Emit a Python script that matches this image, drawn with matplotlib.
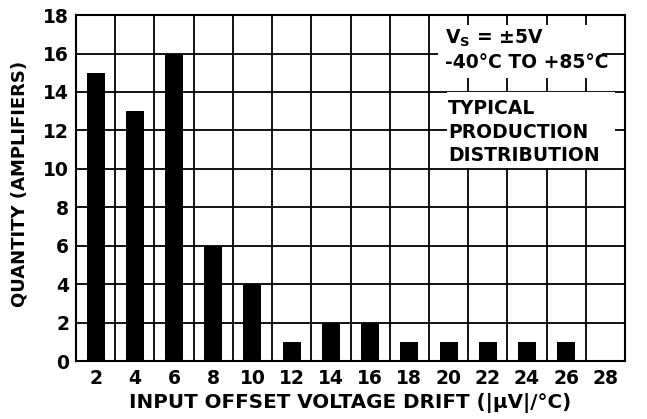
import matplotlib
matplotlib.use('Agg')
import matplotlib.pyplot as plt
from matplotlib.patches import Rectangle

drift = [2, 4, 6, 8, 10, 12, 14, 16, 18, 20, 22, 24, 26]
quantity = [15, 13, 16, 6, 4, 1, 2, 2, 1, 1, 1, 1, 1]
x_ticks = [2, 4, 6, 8, 10, 12, 14, 16, 18, 20, 22, 24, 26, 28]
y_ticks = [0, 2, 4, 6, 8, 10, 12, 14, 16, 18]

plt.rcParams['font.family'] = ['DejaVu Sans']
plt.rcParams['font.weight'] = 'bold'
plt.rcParams['mathtext.default'] = 'bf'
FS = 13.5

fig = plt.figure(figsize=(6.47, 4.19), dpi=100)
ax = fig.add_axes([0.1175, 0.138, 0.8485, 0.826])

ax.bar(drift, quantity, width=0.92, color='black', zorder=3)

ax.set_xlim(1, 29)
ax.set_ylim(0, 18)
ax.set_xticks(x_ticks)
ax.set_yticks(y_ticks)
ax.set_xticks(range(3, 29, 2), minor=True)
ax.tick_params(axis='both', which='both', length=0, labelsize=FS)
ax.tick_params(axis='x', pad=5.5)
ax.tick_params(axis='y', pad=5)
ax.grid(True, which='minor', axis='x', color='black', linewidth=1.3, zorder=1)
ax.grid(True, which='major', axis='y', color='black', linewidth=1.3, zorder=1)
for sp in ax.spines.values():
    sp.set_linewidth(1.5)
    sp.set_zorder(5)

ax.set_xlabel('INPUT OFFSET VOLTAGE DRIFT (|µV|/°C)', fontsize=14.3, fontweight='bold', labelpad=4)
ax.set_ylabel('QUANTITY (AMPLIFIERS)', fontsize=13, fontweight='bold')
ax.yaxis.set_label_coords(-0.086, 0.513)

# white panels behind the annotation text
ax.add_patch(Rectangle((0.660, 0.818), 0.298, 0.153, transform=ax.transAxes,
                       facecolor='white', edgecolor='none', zorder=4))
ax.add_patch(Rectangle((0.676, 0.558), 0.306, 0.219, transform=ax.transAxes,
                       facecolor='white', edgecolor='none', zorder=4))

ax.text(0.672, 0.900, '$V_S$ = ±5V\n-40°C TO +85°C', transform=ax.transAxes, fontsize=FS,
        fontweight='bold', ha='left', va='center', linespacing=1.3, zorder=6)
ax.text(0.678, 0.662, 'TYPICAL\nPRODUCTION\nDISTRIBUTION', transform=ax.transAxes, fontsize=FS,
        fontweight='bold', ha='left', va='center', linespacing=1.3, zorder=6)

fig.savefig('out.png', dpi=100)
